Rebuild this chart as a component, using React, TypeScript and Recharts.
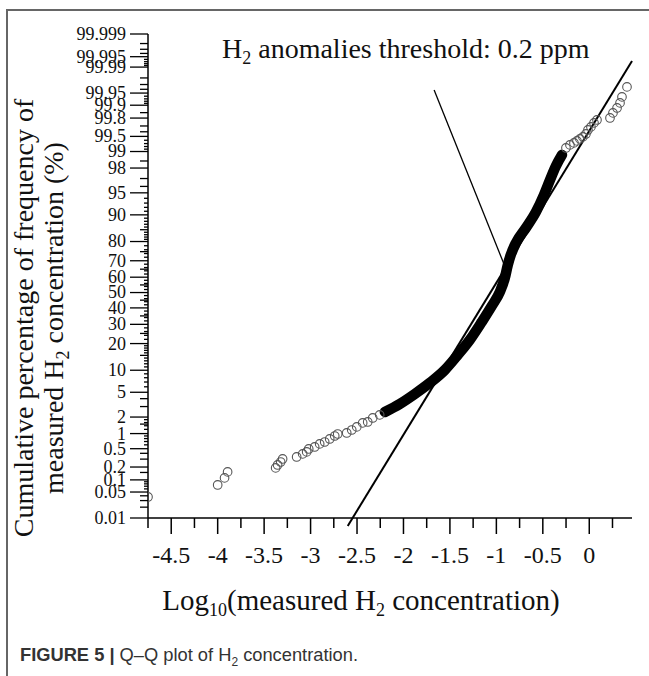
import React from 'react'
import {
  ComposedChart,
  Line,
  Scatter,
  XAxis,
  YAxis,
  ReferenceLine,
} from 'recharts'

// x: log10 of measured H2, z: normal score of cumulative frequency
const tailX = [-4.75, -4.0, -3.926, -3.893, -3.376, -3.355, -3.322, -3.301, -3.15, -3.085, -3.042, -3.02, -2.956, -2.902, -2.848, -2.794, -2.74, -2.708, -2.611, -2.557, -2.503, -2.439, -2.385, -2.331, -2.256]
const tailZ = [-3.372, -3.174, -3.058, -2.959, -2.893, -2.844, -2.795, -2.745, -2.712, -2.662, -2.629, -2.58, -2.547, -2.497, -2.465, -2.415, -2.366, -2.333, -2.316, -2.267, -2.217, -2.151, -2.135, -2.069, -2.019]

const bandX = [-2.2, -2.04, -1.878, -1.717, -1.555, -1.415, -1.286, -1.157, -1.049, -0.963, -0.909, -0.877, -0.845, -0.79, -0.682, -0.574, -0.488, -0.423, -0.359, -0.294]
const bandZ = [-1.97, -1.838, -1.673, -1.491, -1.277, -1.029, -0.782, -0.485, -0.221, 0.01, 0.241, 0.455, 0.62, 0.818, 1.066, 1.33, 1.61, 1.858, 2.088, 2.27]

const upperX = [-0.251, -0.208, -0.165, -0.133, -0.101, -0.069, -0.036, -0.014, 0.018, 0.051, 0.083, 0.223, 0.255, 0.299, 0.331, 0.352, 0.406]
const upperZ = [2.385, 2.435, 2.468, 2.501, 2.534, 2.567, 2.616, 2.682, 2.732, 2.798, 2.847, 2.88, 2.963, 3.045, 3.128, 3.227, 3.392]

// fitted normal line and threshold pointer (end points)
const fitLine = [{ x: -2.6, z: -3.85 }, { x: 0.46, z: 3.82 }]
const thresholdLine = [{ x: -1.67, z: 3.341 }, { x: -0.9, z: 0.4 }]

const xMajorTicks = [-4.5, -4, -3.5, -3, -2.5, -2, -1.5, -1, -0.5, 0]
const xMinorTicks = [-4.75, -4.25, -3.75, -3.25, -2.75, -2.25, -1.75, -1.25, -0.75, -0.25, 0.25]

const yMajorLabels = ['0.01', '0.05', '0.1', '0.2', '0.5', '1', '2', '5', '10', '20', '30', '40', '50', '60', '70', '80', '90', '95', '98', '99', '99.5', '99.8', '99.9', '99.95', '99.99', '99.995', '99.999']
const yMidTicks = [0.02, 0.03, 0.04, 0.15, 0.3, 0.4, 1.5, 3, 4, 15, 25, 35, 45, 55, 65, 75, 85, 96, 97, 98.5, 99.6, 99.7, 99.85, 99.96, 99.97, 99.98, 99.996, 99.997, 99.998]
const ySmallTicks = [0.06, 0.07, 0.08, 0.09, 0.6, 0.7, 0.8, 0.9, 1.2, 1.4, 1.6, 1.8, 6, 7, 8, 9, 11, 12, 13, 14, 16, 17, 18, 19, 22, 24, 26, 28, 32, 34, 36, 38, 42, 44, 46, 48, 52, 54, 56, 58, 62, 64, 66, 68, 72, 74, 76, 78, 81, 82, 83, 84, 86, 87, 88, 89, 91, 92, 93, 94, 99.1, 99.2, 99.3, 99.4, 99.91, 99.92, 99.93, 99.94, 99.991, 99.992, 99.993, 99.994]

// inverse normal CDF (Acklam), used as the probability-axis scale
function probit(p: number): number {
  const a = [-39.69683028665376, 220.9460984245205, -275.9285104469687, 138.357751867269, -30.66479806614716, 2.506628277459239]
  const b = [-54.47609879822406, 161.5858368580409, -155.6989798598866, 66.80131188771972, -13.28068155288572]
  const c = [-0.007784894002430293, -0.3223964580411365, -2.400758277161838, -2.549732539343734, 4.374664141464968, 2.938163982698783]
  const d = [0.007784695709041462, 0.3224671290700398, 2.445134137142996, 3.754408661907416]
  const pl = 0.02425
  if (p < pl) {
    const q = Math.sqrt(-2 * Math.log(p))
    return (((((c[0] * q + c[1]) * q + c[2]) * q + c[3]) * q + c[4]) * q + c[5]) / ((((d[0] * q + d[1]) * q + d[2]) * q + d[3]) * q + 1)
  }
  if (p > 1 - pl) {
    const q = Math.sqrt(-2 * Math.log(1 - p))
    return -(((((c[0] * q + c[1]) * q + c[2]) * q + c[3]) * q + c[4]) * q + c[5]) / ((((d[0] * q + d[1]) * q + d[2]) * q + d[3]) * q + 1)
  }
  const q = p - 0.5
  const r = q * q
  return ((((((a[0] * r + a[1]) * r + a[2]) * r + a[3]) * r + a[4]) * r + a[5]) * q) / (((((b[0] * r + b[1]) * r + b[2]) * r + b[3]) * r + b[4]) * r + 1)
}

const zOf = (pct: number) => probit(pct / 100)

interface YTickDef {
  z: number
  label?: string
  kind: 'major' | 'mid' | 'small'
}

const yTickDefs: YTickDef[] = [
  ...yMajorLabels.map(l => ({ z: zOf(parseFloat(l)), label: l, kind: 'major' as const })),
  ...yMidTicks.map(p => ({ z: zOf(p), kind: 'mid' as const })),
  ...ySmallTicks.map(p => ({ z: zOf(p), kind: 'small' as const })),
]
const yDomain = [zOf(0.01), zOf(99.999)]

const tailData = tailX.map((x, i) => ({ x, z: tailZ[i] }))
const bandData = bandX.map((x, i) => ({ x, z: bandZ[i] }))
const upperData = upperX.map((x, i) => ({ x, z: upperZ[i] }))

const SERIF = '"Liberation Serif", "Times New Roman", serif'

function findYTick(v: number) {
  let best = yTickDefs[0]
  for (const t of yTickDefs) {
    if (Math.abs(t.z - v) < Math.abs(best.z - v)) best = t
  }
  return best
}

function YTick(props: any) {
  const { x, y, payload } = props
  const t = findYTick(payload.value)
  const len = t.kind === 'major' ? 18 : t.kind === 'mid' ? 8 : 4
  return (
    <g>
      <line x1={x - len} x2={x} y1={y} y2={y} stroke="#000" strokeWidth={1.3} />
      {t.label && (
        <text x={x - 22} y={y} dy="0.33em" textAnchor="end" fontSize={18} fontFamily={SERIF} fill="#111">
          {t.label}
        </text>
      )}
    </g>
  )
}

function XTick(props: any) {
  const { x, y, payload } = props
  const v = payload.value as number
  const major = xMajorTicks.some(m => Math.abs(m - v) < 1e-6)
  return (
    <g>
      <line x1={x} x2={x} y1={y} y2={y + (major ? 16 : 10)} stroke="#000" strokeWidth={1.5} />
      {major && (
        <text x={x} y={y + 45} textAnchor="middle" fontSize={24} fontFamily={SERIF} fill="#111">
          {String(v)}
        </text>
      )}
    </g>
  )
}

function CircleShape(props: any) {
  const { cx, cy } = props
  return <circle cx={cx} cy={cy} r={4.3} fill="none" stroke="#555" strokeWidth={1.1} />
}

export default function App() {
  const xTicks = [...xMinorTicks, ...xMajorTicks].sort((a, b) => a - b)
  const yTicks = yTickDefs.map(t => t.z).sort((a, b) => a - b)

  return (
    <div style={{ position: 'absolute', left: 0, top: 0, width: 649, height: 676, background: '#fff' }}>
      <div
        style={{
          position: 'absolute',
          left: 6,
          top: 9,
          width: 643,
          height: 667,
          borderLeft: '2px solid #666',
          borderTop: '2px solid #666',
        }}
      />
      <div style={{ position: 'absolute', left: 0, top: 0 }}>
        <ComposedChart width={649} height={676} margin={{ top: 34, right: 17, bottom: 128, left: 88 }}>
          <XAxis
            type="number"
            dataKey="x"
            domain={[-4.75, 0.46]}
            allowDataOverflow
            ticks={xTicks}
            interval={0}
            tickSize={0}
            tickMargin={0}
            tickLine={false}
            tick={<XTick />}
            axisLine={{ stroke: '#000', strokeWidth: 1.5 }}
            height={30}
          />
          <YAxis
            type="number"
            dataKey="z"
            domain={yDomain}
            allowDataOverflow
            ticks={yTicks}
            interval={0}
            tickSize={0}
            tickMargin={0}
            tickLine={false}
            tick={<YTick />}
            axisLine={{ stroke: '#000', strokeWidth: 1.5 }}
            width={60}
          />
          <Scatter data={tailData} dataKey="z" shape={<CircleShape />} isAnimationActive={false} />
          <Scatter data={upperData} dataKey="z" shape={<CircleShape />} isAnimationActive={false} />
          <Line
            data={bandData}
            dataKey="z"
            type="monotone"
            stroke="#000"
            strokeWidth={10.5}
            strokeLinecap="round"
            strokeLinejoin="round"
            dot={false}
            activeDot={false}
            isAnimationActive={false}
          />
          <ReferenceLine
            segment={fitLine.map(p => ({ x: p.x, y: p.z }))}
            stroke="#000"
            strokeWidth={2}
            ifOverflow="visible"
          />
          <ReferenceLine
            segment={thresholdLine.map(p => ({ x: p.x, y: p.z }))}
            stroke="#000"
            strokeWidth={1.3}
            ifOverflow="visible"
          />
        </ComposedChart>
      </div>
      <svg width={649} height={676} style={{ position: 'absolute', left: 0, top: 0, pointerEvents: 'none' }}>
        <text x={222} y={58} fontSize={28} fontFamily={SERIF} fill="#111">
          H<tspan fontSize={18} dy={6}>2</tspan>
          <tspan dy={-6}> anomalies threshold: 0.2 ppm</tspan>
        </text>
        <text transform="translate(33,318) rotate(-90)" textAnchor="middle" fontSize={28} fontFamily={SERIF} fill="#111">
          Cumulative percentage of frequency of
        </text>
        <text transform="translate(63,318) rotate(-90)" textAnchor="middle" fontSize={28} fontFamily={SERIF} fill="#111">
          measured H<tspan fontSize={18} dy={6}>2</tspan>
          <tspan dy={-6}> concentration (%)</tspan>
        </text>
        <text x={361} y={610} textAnchor="middle" fontSize={29} fontFamily={SERIF} fill="#111">
          Log<tspan fontSize={18} dy={6}>10</tspan>
          <tspan dy={-6}>(measured H</tspan>
          <tspan fontSize={18} dy={6}>2</tspan>
          <tspan dy={-6}> concentration)</tspan>
        </text>
      </svg>
      <div
        style={{
          position: 'absolute',
          left: 20,
          top: 645,
          fontFamily: '"Liberation Sans", Arial, sans-serif',
          fontSize: 18.3,
          color: '#333',
          whiteSpace: 'nowrap',
          lineHeight: '20px',
        }}
      >
        <b>FIGURE 5 |</b> Q–Q plot of H<sub style={{ fontSize: 12, lineHeight: 0 }}>2</sub> concentration.
      </div>
    </div>
  )
}
